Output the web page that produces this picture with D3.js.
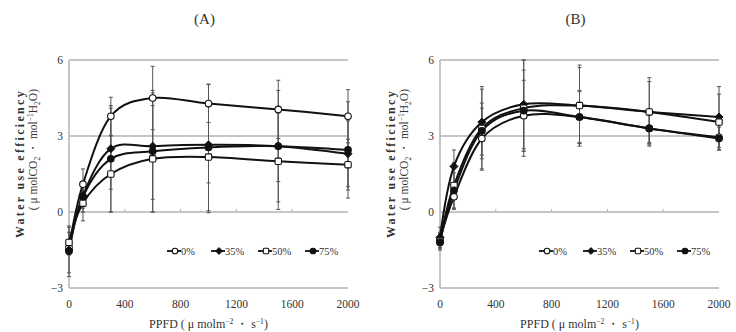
<!DOCTYPE html>
<html>
<head>
<meta charset="utf-8">
<script src="https://cdn.jsdelivr.net/npm/d3@7"></script>
<style>
  body { margin: 0; background: #fff; }
  text { font-family: "Liberation Serif", "DejaVu Serif", serif; fill: #333; }
</style>
</head>
<body>
<div id="chart"></div>
<script>
// PPFD levels (x values)
var ppfd = [0, 100, 300, 600, 1000, 1500, 2000];
var shadeNames = ["0%", "35%", "50%", "75%"];
var markers = ["circleOpen", "diamond", "squareOpen", "circle"];
var yTicks = [-3, 0, 3, 6];
var xTicks = [0, 400, 800, 1200, 1600, 2000];

// Panel A means and error bars
var a0 = [-1.4, 1.1, 3.78, 4.5, 4.28, 4.05, 3.78];
var a35 = [-1.5, 0.65, 2.5, 2.6, 2.65, 2.6, 2.3];
var a50 = [-1.2, 0.35, 1.5, 2.1, 2.17, 2.0, 1.87];
var a75 = [-1.55, 0.6, 2.1, 2.4, 2.55, 2.6, 2.45];
var a0Err = [0.3, 0.6, 0.75, 1.25, 0.75, 1.15, 1.05];
var a35Err = [0.9, 0.5, 1.6, 2.1, 1.5, 1.4, 1.3];
var a50Err = [0.4, 0.7, 1.5, 2.1, 2.2, 1.9, 1.0];
var a75Err = [1.0, 0.6, 2.1, 2.4, 2.5, 2.2, 1.9];

// Panel B means and error bars
var b0 = [-1.1, 0.6, 2.9, 3.8, 3.75, 3.3, 2.95];
var b35 = [-1.0, 1.8, 3.55, 4.25, 4.2, 3.95, 3.75];
var b50 = [-1.15, 1.05, 3.3, 4.1, 4.2, 3.95, 3.55];
var b75 = [-1.2, 0.85, 3.2, 4.0, 3.75, 3.3, 2.9];
var b0Err = [0.3, 0.5, 1.2, 1.4, 1.0, 0.6, 0.5];
var b35Err = [0.4, 0.65, 1.3, 1.75, 1.6, 1.35, 1.2];
var b50Err = [0.3, 0.9, 1.65, 1.9, 1.5, 1.2, 1.1];
var b75Err = [0.3, 0.7, 1.1, 1.6, 1.05, 0.65, 0.45];

var svg = d3.select("#chart").append("svg")
    .attr("width", 736)
    .attr("height", 332);

function drawPanel(title, means, errs, left, right, legendX) {
    var x = d3.scaleLinear().domain([0, 2000]).range([left, right]);
    var y = d3.scaleLinear().domain([-3, 6]).range([288, 60]);
    var g = svg.append("g");

    // title
    g.append("text")
        .attr("x", (left + right) / 2 - 4)
        .attr("y", 24)
        .attr("text-anchor", "middle")
        .style("font-size", "15px")
        .text(title);

    // horizontal grid lines
    g.selectAll(".grid").data(yTicks).enter().append("line")
        .attr("x1", x(0)).attr("x2", x(2000))
        .attr("y1", function (d) { return y(d); })
        .attr("y2", function (d) { return y(d); })
        .style("stroke", "#b3b3b3").style("stroke-width", 1.5);

    // vertical axis line
    g.append("line")
        .attr("x1", x(0)).attr("x2", x(0))
        .attr("y1", y(6)).attr("y2", y(-3))
        .style("stroke", "#b3b3b3").style("stroke-width", 1.5);

    // small ticks on the zero line
    g.selectAll(".tk").data(xTicks.slice(1, 5)).enter().append("line")
        .attr("x1", function (d) { return x(d); })
        .attr("x2", function (d) { return x(d); })
        .attr("y1", y(0)).attr("y2", y(0) - 3)
        .style("stroke", "#b3b3b3").style("stroke-width", 1);

    // tick labels
    g.selectAll(".yl").data(yTicks).enter().append("text")
        .attr("x", x(0) - 6)
        .attr("y", function (d) { return y(d) + 4; })
        .attr("text-anchor", "end")
        .style("font-size", "11.5px")
        .text(function (d) { return d < 0 ? "\u2212" + (-d) : d; });
    g.selectAll(".xl").data(xTicks).enter().append("text")
        .attr("x", function (d) { return x(d); })
        .attr("y", 308)
        .attr("text-anchor", "middle")
        .style("font-size", "11.5px")
        .text(function (d) { return d; });

    // axis titles
    var xt = g.append("text")
        .attr("x", (left + right) / 2)
        .attr("y", 328)
        .attr("text-anchor", "middle")
        .style("font-size", "12px");
    xt.append("tspan").text("PPFD ( \u03bc molm");
    xt.append("tspan").attr("dy", -4).style("font-size", "7.5px").text("\u22122");
    xt.append("tspan").attr("dy", 4).text(" \u30fb s");
    xt.append("tspan").attr("dy", -4).style("font-size", "7.5px").text("\u22121");
    xt.append("tspan").attr("dy", 4).text(")");

    var ytop = 89;
    g.append("text")
        .attr("transform", "translate(" + (left - 45) + "," + ytop + ") rotate(-90)")
        .attr("text-anchor", "end")
        .style("font-size", "12px")
        .style("font-weight", "bold")
        .style("letter-spacing", "2.3px")
        .text("Water use efficiency");
    var yt = g.append("text")
        .attr("transform", "translate(" + (left - 32) + "," + ytop + ") rotate(-90)")
        .attr("text-anchor", "end")
        .style("font-size", "11.5px");
    yt.append("tspan").text("( \u03bc molCO");
    yt.append("tspan").attr("dy", 3).style("font-size", "7.5px").text("2");
    yt.append("tspan").attr("dy", -3).text(" \u30fb mol");
    yt.append("tspan").attr("dy", -4).style("font-size", "7.5px").text("\u22121");
    yt.append("tspan").attr("dy", 4).text("H");
    yt.append("tspan").attr("dy", 3).style("font-size", "7.5px").text("2");
    yt.append("tspan").attr("dy", -3).text("O)");

    // error bars
    means.forEach(function (m, si) {
        var eg = g.append("g");
        eg.selectAll("line.eb").data(ppfd).enter().append("line")
            .attr("x1", function (d) { return x(d); })
            .attr("x2", function (d) { return x(d); })
            .attr("y1", function (d, i) { return y(m[i] + errs[si][i]); })
            .attr("y2", function (d, i) { return y(m[i] - errs[si][i]); })
            .style("stroke", "#555").style("stroke-width", 1);
        [1, -1].forEach(function (sgn) {
            eg.selectAll("line.cap" + sgn).data(ppfd).enter().append("line")
                .attr("x1", function (d) { return x(d) - 2; })
                .attr("x2", function (d) { return x(d) + 2; })
                .attr("y1", function (d, i) { return y(m[i] + sgn * errs[si][i]); })
                .attr("y2", function (d, i) { return y(m[i] + sgn * errs[si][i]); })
                .style("stroke", "#555").style("stroke-width", 1);
        });
    });

    // smoothed lines
    var line = d3.line()
        .x(function (d) { return x(d[0]); })
        .y(function (d) { return y(d[1]); })
        .curve(d3.curveCardinal.tension(0));
    means.forEach(function (m) {
        g.append("path")
            .attr("d", line(ppfd.map(function (p, i) { return [p, m[i]]; })))
            .style("fill", "none").style("stroke", "#111").style("stroke-width", 2);
    });

    // markers
    means.forEach(function (m, si) {
        ppfd.forEach(function (p, i) {
            drawMarker(g, markers[si], x(p), y(m[i]));
        });
    });

    // legend
    var ly = 251;
    var offs = [0, 44, 91, 138];
    shadeNames.forEach(function (name, si) {
        var x0 = legendX + offs[si];
        g.append("line")
            .attr("x1", x0).attr("x2", x0 + 14)
            .attr("y1", ly).attr("y2", ly)
            .style("stroke", "#111").style("stroke-width", 1.8);
        drawMarker(g, markers[si], x0 + 8, ly, 0.85);
        g.append("text")
            .attr("x", x0 + 14).attr("y", ly + 4)
            .style("font-size", "10.5px")
            .text(name);
    });
}

function drawMarker(g, type, cx, cy, k) {
    k = k || 1;
    var fill = (type === "circleOpen" || type === "squareOpen") ? "#fff" : "#111";
    if (type === "circleOpen" || type === "circle") {
        g.append("circle").attr("cx", cx).attr("cy", cy).attr("r", 3.3 * k)
            .style("fill", fill).style("stroke", "#111").style("stroke-width", 1.1);
    } else if (type === "squareOpen") {
        g.append("rect").attr("x", cx - 3.2 * k).attr("y", cy - 3.2 * k)
            .attr("width", 6.4 * k).attr("height", 6.4 * k).attr("rx", 1.2)
            .style("fill", fill).style("stroke", "#111").style("stroke-width", 1.1);
    } else {
        var s = 4 * k;
        g.append("path")
            .attr("d", "M" + cx + "," + (cy - s) + "L" + (cx + s) + "," + cy + "L" + cx + "," + (cy + s) + "L" + (cx - s) + "," + cy + "Z")
            .style("fill", fill).style("stroke", "#111").style("stroke-width", 1);
    }
}

drawPanel("(A)", [a0, a35, a50, a75], [a0Err, a35Err, a50Err, a75Err], 69, 348, 167);
drawPanel("(B)", [b0, b35, b50, b75], [b0Err, b35Err, b50Err, b75Err], 440, 719, 539);
</script>
</body>
</html>
